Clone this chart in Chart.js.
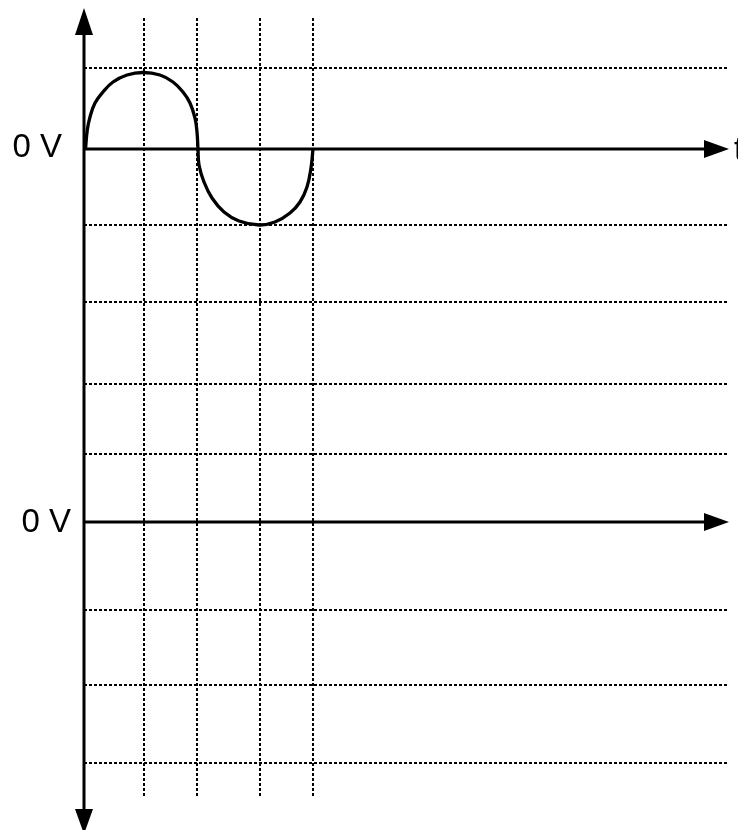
<!DOCTYPE html>
<html>
<head>
<meta charset="utf-8">
<script src="https://cdn.jsdelivr.net/npm/chart.js@4"></script>
<style>
  html, body { margin: 0; padding: 0; background: #ffffff; }
  #wrap { width: 738px; height: 830px; position: relative; }
</style>
</head>
<body>
<div id="wrap"><canvas id="c"></canvas></div>
<script>
// Time axis positions (arbitrary units, 0 at the vertical axis)
const timeGrid = [60, 113, 176, 229];
// Voltage levels of the dotted grid lines (0 = upper 0 V axis)
const voltGrid = [81, -76, -153, -235, -305, -461, -536, -614];
// Zero levels of the two traces
const zeroLevels = [0, -373];
const zeroLabels = ['0 V', '0 V'];
const axisLabel = 't';
// Waveform samples
const waveX = [1.5, 3.3, 6, 11, 19, 29, 43, 59, 76, 89, 99, 106, 111, 113, 114,
               115, 120, 128, 140, 155, 175, 191, 206, 216, 223, 227, 229];
const waveY = [0, 19, 32, 46, 57, 67, 74, 76.5, 74, 67, 57, 46, 31, 17, 0,
               -16, -33, -49, -63, -72, -76, -73, -64, -53, -38, -19, 0];
const xRange = [0, 644];
const yRange = [-648, 131];

const points = waveX.map((x, i) => ({ x: x, y: waveY[i] }));

const axesPlugin = {
  id: 'axesPlugin',
  afterDatasetsDraw(chart) {
    const ctx = chart.ctx;
    const xs = chart.scales.x, ys = chart.scales.y;
    const x0 = xs.getPixelForValue(0);
    ctx.save();
    ctx.fillStyle = '#000';
    ctx.strokeStyle = '#000';
    ctx.lineWidth = 3;
    ctx.setLineDash([]);
    // vertical axis
    const topTip = 8, topBase = 35, botBase = 809, botTip = 834;
    ctx.beginPath();
    ctx.moveTo(x0, topBase);
    ctx.lineTo(x0, botBase);
    ctx.stroke();
    ctx.beginPath();
    ctx.moveTo(x0, topTip);
    ctx.lineTo(x0 - 9, topBase);
    ctx.lineTo(x0 + 9, topBase);
    ctx.closePath();
    ctx.fill();
    ctx.beginPath();
    ctx.moveTo(x0, botTip);
    ctx.lineTo(x0 - 9, botBase);
    ctx.lineTo(x0 + 9, botBase);
    ctx.closePath();
    ctx.fill();
    // horizontal axes
    const arrowBase = 704, arrowTip = 729;
    zeroLevels.forEach((v) => {
      const y = ys.getPixelForValue(v);
      ctx.beginPath();
      ctx.moveTo(x0, y);
      ctx.lineTo(arrowBase, y);
      ctx.stroke();
      ctx.beginPath();
      ctx.moveTo(arrowTip, y);
      ctx.lineTo(arrowBase, y - 9);
      ctx.lineTo(arrowBase, y + 9);
      ctx.closePath();
      ctx.fill();
    });
    // labels
    ctx.font = '33px "Liberation Sans", Arial, sans-serif';
    ctx.textBaseline = 'alphabetic';
    ctx.textAlign = 'right';
    const y1 = ys.getPixelForValue(zeroLevels[0]);
    const y2 = ys.getPixelForValue(zeroLevels[1]);
    ctx.fillText(zeroLabels[0], 62, y1 + 8);
    ctx.fillText(zeroLabels[1], 71, y2 + 10);
    ctx.textAlign = 'left';
    ctx.fillText(axisLabel, 734, y1 + 11);
    ctx.restore();
  }
};

new Chart(document.getElementById('c'), {
  type: 'line',
  data: {
    datasets: [{
      data: points,
      borderColor: '#000',
      borderWidth: 3.3,
      pointRadius: 0,
      fill: false,
      tension: 0.4,
      clip: false
    }]
  },
  options: {
    responsive: true,
    maintainAspectRatio: false,
    animation: false,
    events: [],
    layout: { padding: { left: 84, right: 10, top: 18, bottom: 33 } },
    plugins: { legend: { display: false }, tooltip: { enabled: false } },
    scales: {
      x: {
        type: 'linear',
        min: xRange[0], max: xRange[1],
        afterBuildTicks: (s) => { s.ticks = timeGrid.map(v => ({ value: v })); },
        ticks: { display: false },
        grid: { color: '#000', lineWidth: 2, drawTicks: false },
        border: { display: false, dash: [3, 2] }
      },
      y: {
        type: 'linear',
        min: yRange[0], max: yRange[1],
        afterBuildTicks: (s) => { s.ticks = voltGrid.map(v => ({ value: v })); },
        ticks: { display: false },
        grid: { color: '#000', lineWidth: 2, drawTicks: false },
        border: { display: false, dash: [3, 2] }
      }
    }
  },
  plugins: [axesPlugin]
});
</script>
</body>
</html>
